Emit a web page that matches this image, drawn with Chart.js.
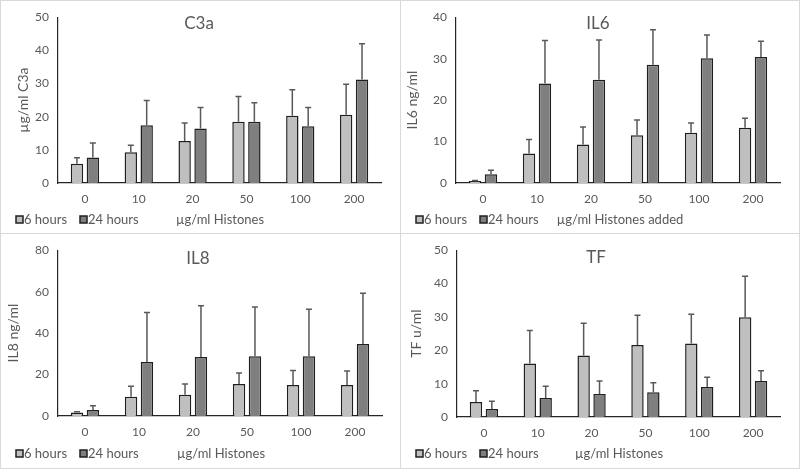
<!DOCTYPE html>
<html>
<head>
<meta charset="utf-8">
<script src="https://cdn.jsdelivr.net/npm/chart.js@4.4.0/dist/chart.umd.min.js"></script>
<style>
  body { margin: 0; background: #fff; }
  #wrap { position: relative; width: 800px; height: 469px; }
  .panel { position: absolute; box-sizing: border-box; border: 1px solid #d9d9d9; background: #fff; }
  .panel canvas { display: block; }
</style>
</head>
<body>
<div id="wrap">
  <div class="panel" style="left:0;top:0;width:401px;height:234px"><canvas id="c3a" width="399" height="232"></canvas></div>
  <div class="panel" style="left:400px;top:0;width:400px;height:234px"><canvas id="il6" width="398" height="232"></canvas></div>
  <div class="panel" style="left:0;top:233px;width:401px;height:236px"><canvas id="il8" width="399" height="234"></canvas></div>
  <div class="panel" style="left:400px;top:233px;width:400px;height:236px"><canvas id="tf" width="398" height="234"></canvas></div>
</div>
<script>
  // histone doses (x categories)
  const doses = ["0", "10", "20", "50", "100", "200"];
  const seriesNames = ["6 hours", "24 hours"];

  // C3a (µg/ml)
  const c3a6h = [5.8, 9.3, 12.7, 18.5, 20.3, 20.6];
  const c3a6hErr = [1.8, 2.1, 5.4, 7.6, 7.8, 9.2];
  const c3a24h = [7.7, 17.4, 16.4, 18.5, 17.1, 31.2];
  const c3a24hErr = [4.4, 7.5, 6.4, 5.7, 5.7, 10.8];

  // IL6 (ng/ml)
  const il66h = [0.5, 7.1, 9.3, 11.5, 12.1, 13.3];
  const il66hErr = [0.1, 3.4, 4.2, 3.7, 2.4, 2.3];
  const il624h = [2.1, 24.0, 24.9, 28.5, 30.1, 30.4];
  const il624hErr = [1.0, 10.4, 9.6, 8.5, 5.6, 3.8];

  // IL8 (ng/ml)
  const il86h = [1.7, 9.3, 10.3, 15.5, 14.9, 14.9];
  const il86hErr = [0.4, 5.1, 5.2, 5.3, 7.1, 6.8];
  const il824h = [2.9, 26.1, 28.5, 28.8, 28.8, 34.7];
  const il824hErr = [2.0, 23.8, 24.7, 23.8, 22.7, 24.5];

  // TF (u/ml)
  const tf6h = [4.5, 16.0, 18.4, 21.6, 22.0, 29.9];
  const tf6hErr = [3.4, 9.9, 9.7, 8.9, 8.8, 12.3];
  const tf24h = [2.4, 5.7, 6.9, 7.4, 9.0, 10.8];
  const tf24hErr = [2.3, 3.5, 3.9, 2.9, 2.9, 3.1];

  const textGray = '#595959';
  Chart.defaults.font.family = 'Lato';
  Chart.defaults.color = textGray;

  // draws the upward error bars on top of each bar
  const errorBars = {
    id: 'errorBars',
    afterDatasetsDraw(chart) {
      const ctx = chart.ctx;
      const yScale = chart.scales.y;
      ctx.save();
      ctx.strokeStyle = '#595959';
      ctx.lineWidth = 1.5;
      chart.data.datasets.forEach((ds, i) => {
        chart.getDatasetMeta(i).data.forEach((bar, j) => {
          const top = yScale.getPixelForValue(ds.data[j] + ds.errors[j]);
          ctx.beginPath();
          ctx.moveTo(bar.x, bar.y);
          ctx.lineTo(bar.x, top);
          ctx.moveTo(bar.x - 3, top);
          ctx.lineTo(bar.x + 3, top);
          ctx.stroke();
        });
      });
      ctx.restore();
    }
  };

  // title inside the plot, plus legend and x title on one row at the bottom
  const panelText = {
    id: 'panelText',
    afterDraw(chart, args, opts) {
      const ctx = chart.ctx;
      ctx.save();
      ctx.fillStyle = textGray;
      ctx.textBaseline = 'middle';
      ctx.textAlign = 'center';
      ctx.font = '17px Lato';
      ctx.fillText(opts.title, opts.titleX, opts.titleY);

      ctx.font = '13px Lato';
      ctx.textAlign = 'left';
      chart.data.datasets.forEach((ds, i) => {
        const x = opts.legendX[i];
        ctx.fillStyle = ds.backgroundColor;
        ctx.fillRect(x, opts.rowY - 4, 7, 7);
        ctx.strokeStyle = ds.borderColor;
        ctx.lineWidth = 1.5;
        ctx.strokeRect(x, opts.rowY - 4, 7, 7);
        ctx.fillStyle = textGray;
        ctx.fillText(ds.label, x + 8, opts.rowY);
      });

      ctx.font = '13px Lato';
      ctx.textAlign = 'center';
      ctx.fillText(opts.xTitle, opts.xTitleX, opts.rowY);
      ctx.restore();
    }
  };

  function makeChart(id, p) {
    const canvas = document.getElementById(id);
    const h = canvas.height;
    const xAxisH = 20;
    return new Chart(canvas, {
      type: 'bar',
      data: {
        labels: doses,
        datasets: [
          { label: seriesNames[0], data: p.short, errors: p.shortErr,
            backgroundColor: '#bfbfbf', borderColor: '#1f1f1f', borderWidth: 1.5 },
          { label: seriesNames[1], data: p.long, errors: p.longErr,
            backgroundColor: '#7f7f7f', borderColor: '#1f1f1f', borderWidth: 1.5 }
        ]
      },
      options: {
        responsive: false,
        animation: false,
        categoryPercentage: 0.59,
        barPercentage: 0.78,
        layout: {
          padding: { left: 0, top: p.top, right: canvas.width - p.right, bottom: h - p.bottom - xAxisH }
        },
        scales: {
          x: {
            grid: { display: false, drawTicks: false },
            border: { color: '#262626', width: 1.2 },
            ticks: { padding: 9, font: { size: 12 }, color: textGray },
            afterFit: s => { s.height = xAxisH; }
          },
          y: {
            min: 0,
            max: p.yMax,
            grid: { display: false, drawTicks: false },
            border: { color: '#262626', width: 1.2 },
            ticks: { stepSize: p.yStep, padding: 9, font: { size: 12 }, color: textGray },
            title: { display: true, text: p.yTitle, font: { size: 14 }, color: textGray,
                     padding: { top: p.yTitlePad, bottom: 0 } },
            afterFit: s => { s.width = p.left; }
          }
        },
        plugins: {
          legend: { display: false },
          tooltip: { enabled: false },
          panelText: {
            title: p.title, titleX: p.titleX, titleY: p.titleY,
            legendX: [15, 79], rowY: p.rowY,
            xTitle: p.xTitle, xTitleX: p.xTitleX
          }
        }
      },
      plugins: [errorBars, panelText]
    });
  }

  makeChart('c3a', {
    short: c3a6h, shortErr: c3a6hErr, long: c3a24h, longErr: c3a24hErr,
    yMax: 50, yStep: 10, yTitle: 'µg/ml C3a', yTitlePad: 14.5,
    left: 57, top: 7, right: 380, bottom: 182,
    title: 'C3a', titleX: 198, titleY: 23,
    rowY: 219, xTitle: 'µg/ml Histones', xTitleX: 219
  });

  makeChart('il6', {
    short: il66h, shortErr: il66hErr, long: il624h, longErr: il624hErr,
    yMax: 40, yStep: 10, yTitle: 'IL6 ng/ml', yTitlePad: 3.5,
    left: 55, top: 16, right: 379, bottom: 182,
    title: 'IL6', titleX: 197, titleY: 23,
    rowY: 219, xTitle: 'µg/ml Histones added', xTitleX: 219
  });

  makeChart('il8', {
    short: il86h, shortErr: il86hErr, long: il824h, longErr: il824hErr,
    yMax: 80, yStep: 20, yTitle: 'IL8 ng/ml', yTitlePad: 4.5,
    left: 57, top: 13, right: 381, bottom: 182,
    title: 'IL8', titleX: 197, titleY: 25,
    rowY: 220, xTitle: 'µg/ml Histones', xTitleX: 220
  });

  makeChart('tf', {
    short: tf6h, shortErr: tf6hErr, long: tf24h, longErr: tf24hErr,
    yMax: 50, yStep: 10, yTitle: 'TF u/ml', yTitlePad: 7.5,
    left: 56, top: 11, right: 379, bottom: 183,
    title: 'TF', titleX: 195, titleY: 24,
    rowY: 220, xTitle: 'µg/ml Histones', xTitleX: 218
  });
</script>
</body>
</html>
